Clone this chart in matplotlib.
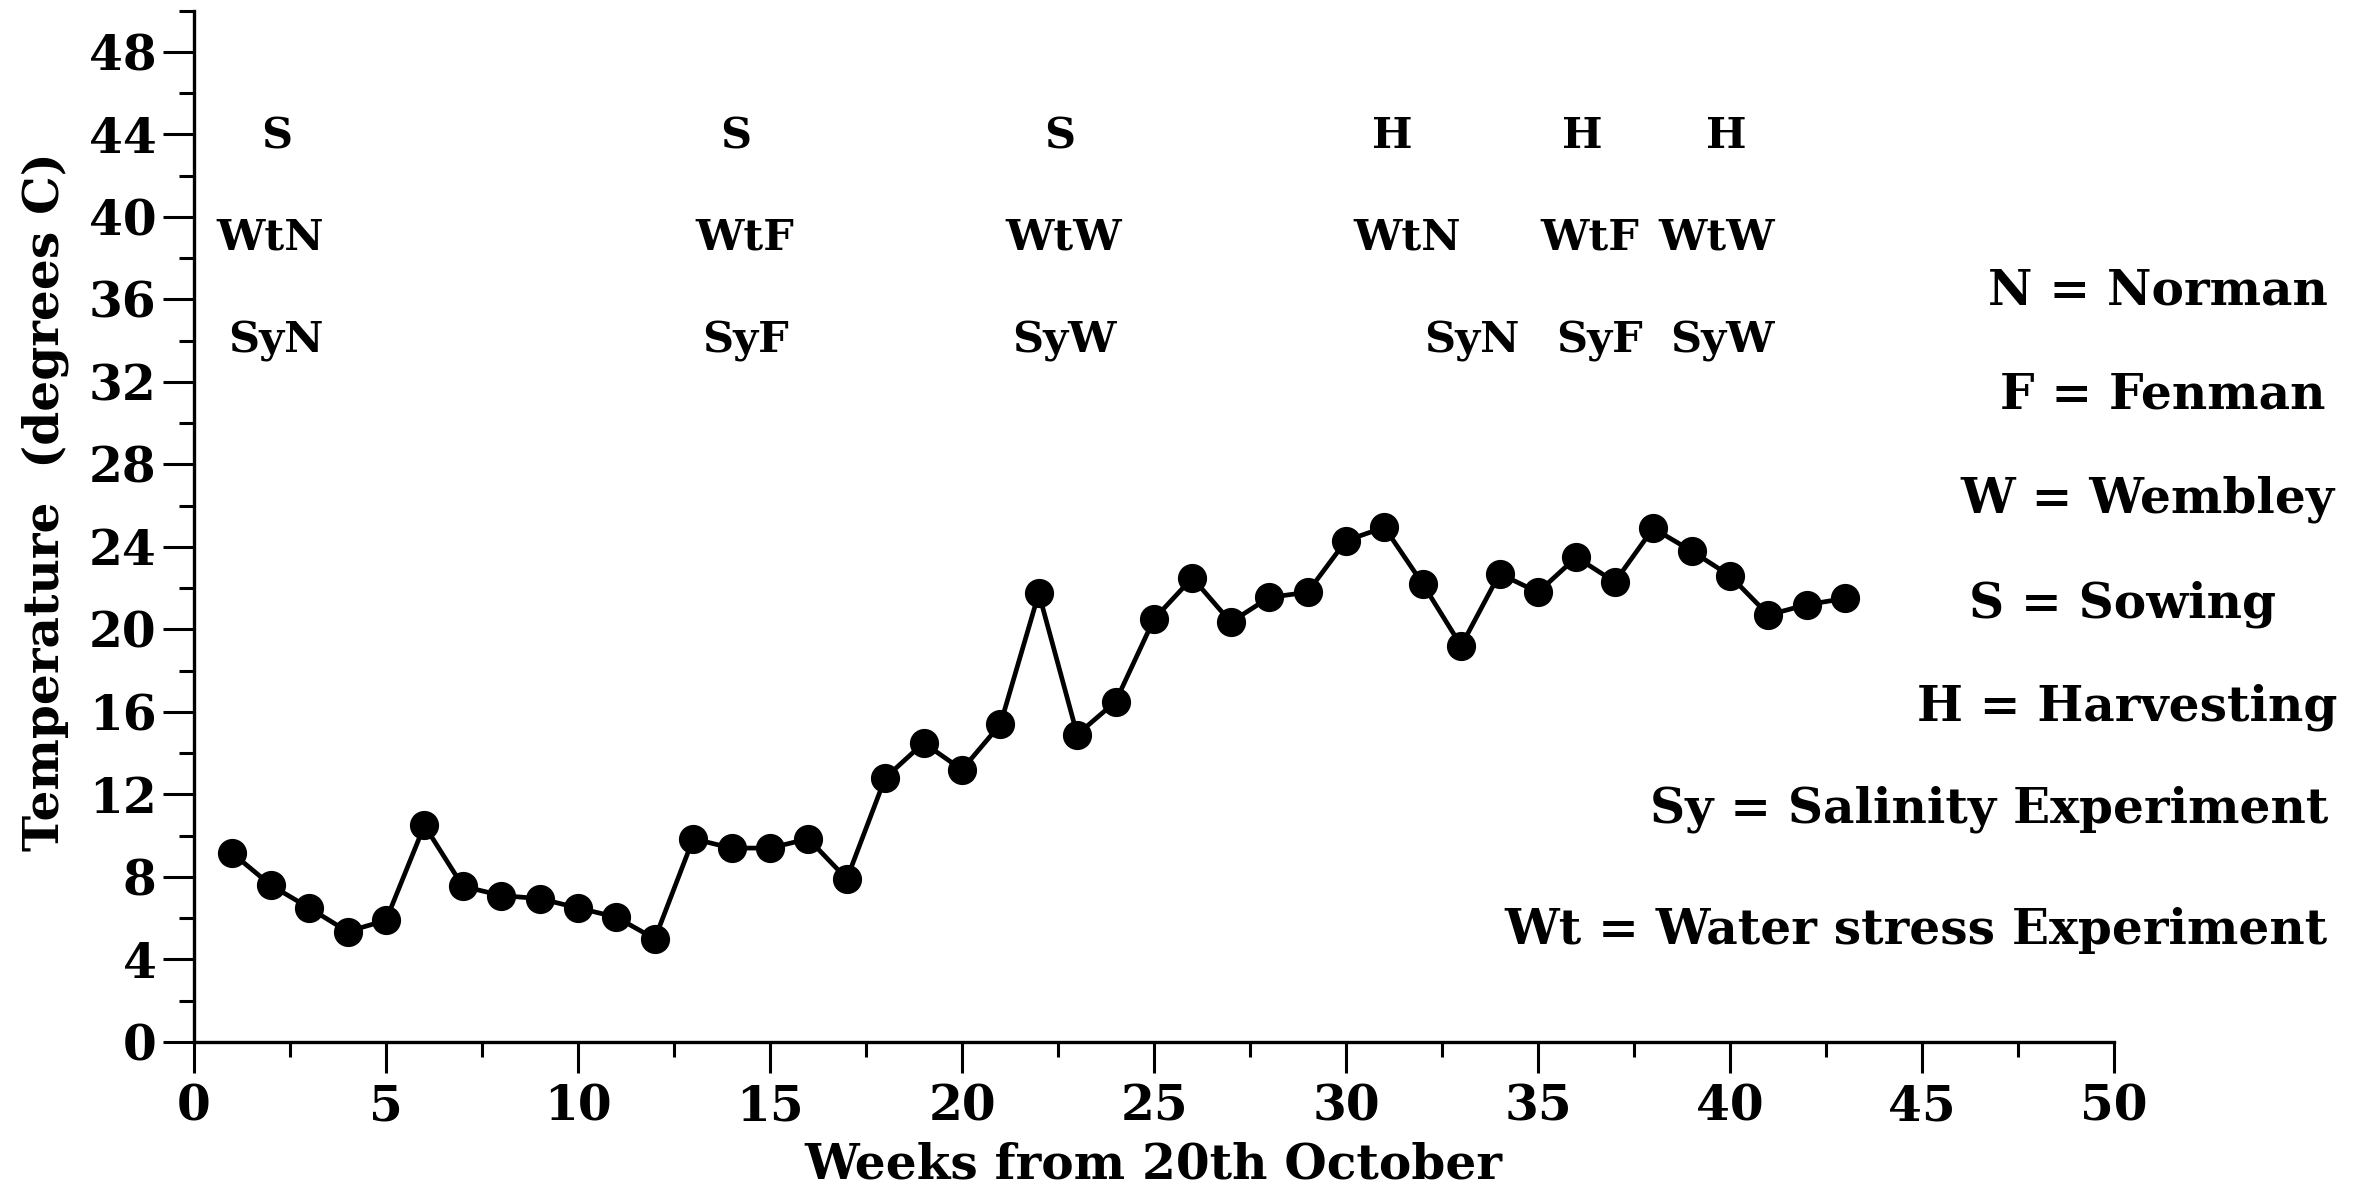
import matplotlib
matplotlib.use("Agg")
import matplotlib.pyplot as plt
from matplotlib.ticker import MultipleLocator

# Weekly mean temperature
weeks = list(range(1, 44))
temperature = [9.15, 7.6, 6.5, 5.35, 5.9, 10.5, 7.55, 7.1, 6.95, 6.5,
               6.05, 5.0, 9.85, 9.4, 9.4, 9.85, 7.9, 12.8, 14.5, 13.2,
               15.4, 21.75, 14.9, 16.5, 20.5, 22.5, 20.35, 21.55, 21.8, 24.3,
               24.95, 22.2, 19.2, 22.7, 21.8, 23.5, 22.3, 24.9, 23.8, 22.6,
               20.7, 21.2, 21.5]

# Event annotations: (week, temperature level, label)
event_weeks = [2.15, 14.1, 22.55, 31.2, 36.15, 39.9]
event_labels = ["S", "S", "S", "H", "H", "H"]
event_level = 43.9

wt_weeks = [1.98, 14.35, 22.64, 31.6, 36.35, 39.65]
wt_labels = ["WtN", "WtF", "WtW", "WtN", "WtF", "WtW"]
wt_level = 39.0

sy_weeks = [2.14, 14.37, 22.66, 33.29, 36.61, 39.8]
sy_labels = ["SyN", "SyF", "SyW", "SyN", "SyF", "SyW"]
sy_level = 34.0

key_lines = ["N = Norman", "F = Fenman", "W = Wembley", "S = Sowing",
             "H = Harvesting", "Sy = Salinity Experiment",
             "Wt = Water stress Experiment"]
key_right_px = [2328, 2325, 2334, 2276, 2337, 2328, 2328]
key_y_px = [291, 395, 499, 604, 707, 809, 930]

W, H = 2363, 1190
plt.rcParams["font.family"] = ["DejaVu Serif"]
plt.rcParams["font.weight"] = "bold"
FS = 35
FS_EVENT = 31

fig = plt.figure(figsize=(W / 100, H / 100), dpi=100)
ax = fig.add_axes([194 / W, 1 - 1042 / H, (2114 - 194) / W, (1042 - 10.5) / H])

ax.plot(weeks, temperature, color="black", lw=3.4, marker="o",
        markersize=20, markerfacecolor="black", markeredgecolor="black",
        clip_on=False)

ax.set_xlim(0, 50)
ax.set_ylim(0, 50)
ax.xaxis.set_major_locator(MultipleLocator(5))
ax.xaxis.set_minor_locator(MultipleLocator(2.5))
ax.yaxis.set_major_locator(MultipleLocator(4))
ax.yaxis.set_minor_locator(MultipleLocator(2))
ax.set_yticks(range(0, 49, 4))

for s in ["top", "right"]:
    ax.spines[s].set_visible(False)
for s in ["left", "bottom"]:
    ax.spines[s].set_linewidth(2.4)

ax.tick_params(axis="both", which="major", length=22, width=2.2,
               labelsize=FS, direction="out")
ax.tick_params(axis="both", which="minor", length=11, width=2.2,
               direction="out")
ax.tick_params(axis="x", which="major", pad=8)
ax.tick_params(axis="y", which="major", pad=5)
for lab in ax.get_xticklabels() + ax.get_yticklabels():
    lab.set_fontweight("bold")

for x, t in zip(event_weeks, event_labels):
    ax.text(x, event_level, t, ha="center", va="center", fontsize=FS_EVENT,
            fontweight="bold")
for x, t in zip(wt_weeks, wt_labels):
    ax.text(x, wt_level, t, ha="center", va="center", fontsize=FS_EVENT,
            fontweight="bold")
for x, t in zip(sy_weeks, sy_labels):
    ax.text(x, sy_level, t, ha="center", va="center", fontsize=FS_EVENT,
            fontweight="bold")

for t, xr, yp in zip(key_lines, key_right_px, key_y_px):
    fig.text(xr / W, 1 - yp / H, t, ha="right", va="center", fontsize=FS,
             fontweight="bold")

fig.text(1153 / W, 1 - 1165 / H, "Weeks from 20th October", ha="center",
         va="center", fontsize=FS, fontweight="bold")
fig.text(45 / W, 1 - 502 / H, "Temperature  (degrees C)", ha="center",
         va="center", rotation=90, fontsize=FS, fontweight="bold")

fig.savefig("out.png", dpi=100, facecolor="white")
